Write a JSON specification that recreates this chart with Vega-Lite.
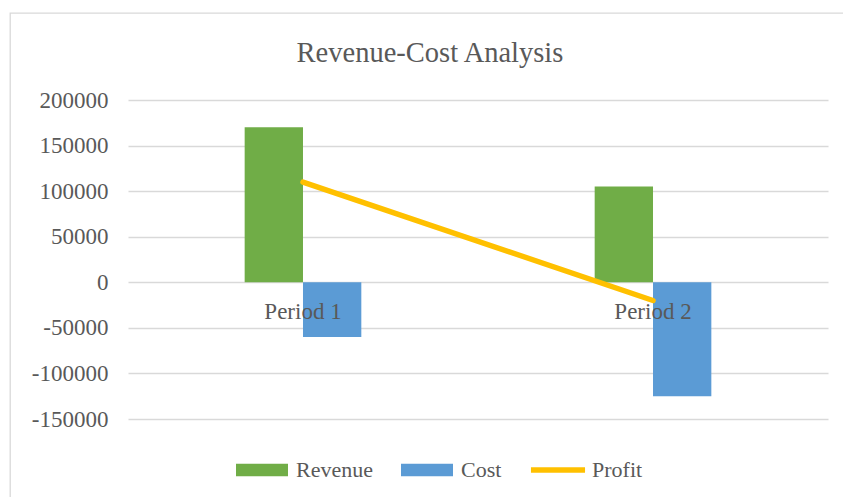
{
  "$schema": "https://vega.github.io/schema/vega-lite/v6.json",
  "autosize": "none",
  "width": 840,
  "height": 490,
  "padding": {"left": 10, "top": 13, "right": 0, "bottom": 0},
  "background": "white",
  "config": {
    "view": {"stroke": "#D9D9D9", "strokeWidth": 1.3},
    "font": "Liberation Serif"
  },
  "title": {
    "text": "Revenue-Cost Analysis",
    "font": "Liberation Serif",
    "fontSize": 28.5,
    "fontWeight": "normal",
    "color": "#595959",
    "anchor": "middle",
    "frame": "group",
    "baseline": "alphabetic",
    "offset": -77
  },
  "data": {
    "values": [
      {"period": "Period 1", "series": "Revenue", "value": 170000},
      {"period": "Period 1", "series": "Cost", "value": -60000},
      {"period": "Period 2", "series": "Revenue", "value": 105000},
      {"period": "Period 2", "series": "Cost", "value": -125000},
      {"period": "Period 1", "series": "Profit", "value": 110000},
      {"period": "Period 2", "series": "Profit", "value": -20000}
    ]
  },
  "layer": [
    {
      "transform": [{"filter": "datum.series !== 'Profit'"}],
      "mark": {"type": "bar"},
      "encoding": {
        "x": {
          "field": "period",
          "type": "nominal",
          "scale": {"domain": ["Period 1", "Period 2"], "range": [118, 818], "paddingInner": 0.6667, "paddingOuter": 0.3333},
          "axis": {
            "title": null,
            "labelAngle": 0,
            "domain": false,
            "ticks": false,
            "tickSize": 0,
            "grid": false,
            "offset": -221,
            "labelPadding": 18,
            "labelFontSize": 23,
            "labelColor": "#595959",
            "labelFont": "Liberation Serif",
            "zindex": 1
          }
        },
        "xOffset": {"field": "series", "scale": {"domain": ["Revenue", "Cost"]}},
        "y": {
          "field": "value",
          "type": "quantitative",
          "scale": {"domain": [-150000, 200000], "range": [406, 87], "nice": false},
          "axis": {
            "title": null,
            "values": [-150000, -100000, -50000, 0, 50000, 100000, 150000, 200000],
            "labelExpr": "'' + datum.value",
            "domain": false,
            "ticks": false,
            "tickSize": 0,
            "offset": -100,
            "labelPadding": 2,
            "labelFontSize": 23,
            "labelColor": "#595959",
            "labelFont": "Liberation Serif",
            "grid": true,
            "gridColor": "#D9D9D9",
            "gridWidth": 1.3
          }
        },
        "color": {
          "field": "series",
          "type": "nominal",
          "scale": {"domain": ["Revenue", "Cost", "Profit"], "range": ["#70AD47", "#5B9BD5", "#FFC000"]},
          "legend": {
            "title": null,
            "orient": "none",
            "legendX": 226,
            "legendY": 431,
            "direction": "horizontal",
            "symbolType": "M-1,-0.245H1V0.245H-1Z",
            "symbolSize": 2704,
            "symbolStrokeWidth": 0,
            "symbolOpacity": 1,
            "labelFontSize": 22,
            "labelFont": "Liberation Serif",
            "labelColor": "#595959",
            "labelOffset": 8,
            "columnPadding": 28,
            "padding": 0,
            "labelLimit": 300,
            "encode": {
              "symbols": {
                "update": {
                  "shape": {"signal": "datum.value === 'Profit' ? 'M-1.04,-0.11H1.04V0.11H-1.04Z' : 'M-1,-0.245H1V0.245H-1Z'"}
                }
              }
            }
          }
        }
      }
    },
    {
      "transform": [{"filter": "datum.series === 'Profit'"}],
      "mark": {"type": "line", "color": "#FFC000", "strokeWidth": 5.5, "strokeCap": "round"},
      "encoding": {
        "x": {"field": "period", "type": "nominal"},
        "y": {"field": "value", "type": "quantitative"}
      }
    }
  ]
}
